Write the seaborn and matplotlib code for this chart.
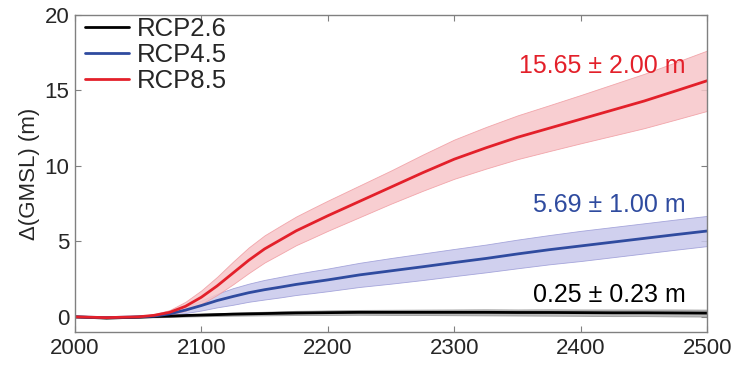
import numpy as np
import pandas as pd
import matplotlib
matplotlib.use("Agg")
import matplotlib.pyplot as plt
import seaborn as sns

# Dados
anos = [2000, 2025, 2050, 2062.5, 2075, 2087.5, 2100, 2112.5, 2125, 2137.5,
        2150, 2162.5, 2175, 2187.5, 2200, 2225, 2250, 2275, 2300, 2325,
        2350, 2375, 2400, 2425, 2450, 2475, 2500]

rcp26 = [0.0, -0.08, -0.02, 0.02, 0.05, 0.09, 0.12, 0.15, 0.18, 0.20,
         0.22, 0.24, 0.26, 0.27, 0.28, 0.30, 0.30, 0.30, 0.30, 0.30,
         0.29, 0.29, 0.28, 0.27, 0.27, 0.26, 0.25]
rcp26_err = [0.0, 0.02, 0.04, 0.05, 0.06, 0.07, 0.08, 0.09, 0.10, 0.11,
             0.12, 0.13, 0.14, 0.14, 0.15, 0.16, 0.17, 0.18, 0.19, 0.20,
             0.20, 0.21, 0.21, 0.22, 0.22, 0.23, 0.23]

rcp45 = [0.0, -0.05, 0.0, 0.05, 0.2, 0.45, 0.75, 1.08, 1.35, 1.6,
         1.8, 1.97, 2.15, 2.3, 2.45, 2.78, 3.05, 3.32, 3.6, 3.87,
         4.17, 4.45, 4.7, 4.95, 5.2, 5.45, 5.69]
rcp45_err = [0.0, 0.0, 0.02, 0.05, 0.1, 0.2, 0.33, 0.45, 0.55, 0.6,
             0.65, 0.68, 0.7, 0.73, 0.75, 0.8, 0.85, 0.88, 0.9, 0.92,
             0.95, 0.97, 1.0, 1.0, 1.0, 1.0, 1.0]

rcp85 = [0.0, -0.05, 0.0, 0.1, 0.3, 0.7, 1.3, 2.05, 2.9, 3.75,
         4.5, 5.1, 5.7, 6.2, 6.7, 7.65, 8.6, 9.55, 10.45, 11.2,
         11.9, 12.5, 13.1, 13.7, 14.3, 14.97, 15.65]
rcp85_err = [0.0, 0.0, 0.03, 0.08, 0.15, 0.3, 0.45, 0.6, 0.75, 0.85,
             0.9, 0.93, 0.95, 0.98, 1.0, 1.05, 1.1, 1.2, 1.3, 1.38,
             1.45, 1.52, 1.6, 1.7, 1.8, 1.9, 2.0]

cenarios = ['RCP2.6', 'RCP4.5', 'RCP8.5']
textos = ['0.25 ± 0.23 m', '5.69 ± 1.00 m', '15.65 ± 2.00 m']
pos_texto = [1.45, 7.4, 16.6]
cores = ['#000000', '#2f4b9f', '#e3202a']
cores_faixa = ['#b0b0b0', '#c8c8ec', '#f7c6c9']
cores_borda = ['#909090', '#9a9ad6', '#f09aa0']

series = [(rcp26, rcp26_err), (rcp45, rcp45_err), (rcp85, rcp85_err)]

sns.set_style('white')
plt.rcParams['font.family'] = ['Liberation Sans', 'DejaVu Sans']

fig, ax = plt.subplots(figsize=(7.33, 3.66), dpi=100)
fig.subplots_adjust(left=0.102, right=0.965, top=0.959, bottom=0.093)

x = np.array(anos)
for nome, (media, erro), cor, cf, cb in zip(cenarios, series, cores, cores_faixa, cores_borda):
    media = np.array(media)
    erro = np.array(erro)
    ax.fill_between(x, media - erro, media + erro, facecolor=cf, edgecolor=cb,
                    linewidth=0.6, alpha=0.85)

for nome, (media, erro), cor in zip(cenarios, series, cores):
    df = pd.DataFrame({'ano': anos, 'valor': media})
    sns.lineplot(data=df, x='ano', y='valor', ax=ax, color=cor, linewidth=2,
                 label=nome)

for txt, y, cor in zip(textos, pos_texto, cores):
    ax.text(2483, y, txt, color=cor, fontsize=18, ha='right', va='center')

ax.set_xlim(2000, 2500)
ax.set_ylim(-1, 20)
ax.set_xticks([2000, 2100, 2200, 2300, 2400, 2500])
ax.set_yticks([0, 5, 10, 15, 20])
ax.set_xlabel('')
ax.set_ylabel('Δ(GMSL) (m)', fontsize=16, labelpad=3)
ax.tick_params(axis='both', direction='in', length=4, color='#808080',
               labelsize=16, top=True, right=True, bottom=True, left=True, pad=4)
for sp in ax.spines.values():
    sp.set_color('#808080')
    sp.set_linewidth(1)

leg = ax.legend(loc='upper left', frameon=False, fontsize=18.5, handlelength=1.7,
                handletextpad=0.3, labelspacing=0.08, borderaxespad=0.0,
                bbox_to_anchor=(0.0, 1.025))

plt.savefig('out.png', dpi=100)
